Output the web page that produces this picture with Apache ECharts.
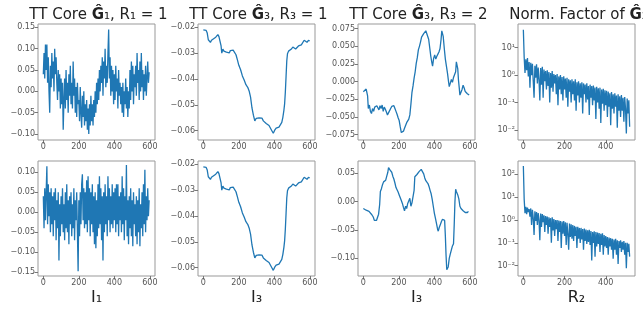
<!DOCTYPE html>
<html>
<head>
<meta charset="utf-8">
<title>TT cores</title>
<script src="https://cdn.jsdelivr.net/npm/echarts@6/dist/echarts.min.js"></script>
<style>body{margin:0;background:#fff} #main{width:643px;height:309px}</style>
</head>
<body>
<div id="main"></div>
<script>
// noisy series are sampled every 4 indices
var STEP = 4;

// TT core G1, R1 = 1 (top row)
var g1Top = [
  0.04, 0.09, 0.03, 0.11, 0.05, 0.11, 0.02, 0.08, 0.00, -0.05,
  0.06, 0.01, 0.09, 0.03, 0.07, 0.00, 0.10, 0.04, 0.08, 0.02,
  -0.02, 0.05, 0.00, 0.04, -0.04, 0.03, -0.03, 0.02, -0.09, -0.02,
  0.03, -0.04, 0.05, -0.02, 0.02, -0.05, 0.04, -0.01, 0.06, -0.03,
  0.02, -0.04, 0.07, -0.01, 0.03, -0.05, 0.01, -0.06, 0.02, -0.03,
  -0.02, -0.07, 0.01, -0.05, -0.085, -0.01, -0.06, 0.00, -0.08, -0.03,
  -0.07, -0.02, -0.09, -0.04, -0.10, -0.03, -0.08, -0.01, -0.07, -0.03,
  -0.08, -0.02, -0.06, 0.00, -0.05, 0.02, -0.03, 0.03, -0.02, 0.05,
  0.00, 0.06, 0.02, 0.08, -0.01, 0.07, 0.03, 0.10, 0.01, 0.06,
  0.02, 0.09, 0.145, 0.03, 0.08, -0.01, 0.06, 0.00, 0.05, -0.03,
  0.04, -0.02, 0.06, 0.00, 0.03, -0.04, 0.05, -0.01, 0.02, -0.03,
  0.01, -0.05, 0.02, -0.06, 0.00, -0.03, 0.03, -0.04, 0.01, -0.06,
  0.00, -0.04, 0.05, -0.02, 0.07, 0.00, 0.06, -0.03, 0.04, 0.01,
  0.06, -0.01, 0.09, 0.02, 0.05, -0.02, 0.07, 0.00, 0.09, 0.01,
  0.05, -0.02, 0.04, 0.00, 0.06, -0.01, 0.03, 0.07, 0.02, 0.045
];

// TT core G1 (bottom row)
var g1Bot = [
  0.04, -0.04, 0.06, -0.02, 0.05, 0.115, -0.03, 0.07, -0.01, 0.05,
  -0.05, 0.06, -0.03, 0.04, -0.06, 0.05, -0.02, 0.06, -0.07, 0.03,
  -0.04, 0.05, -0.12, 0.02, -0.06, 0.04, -0.03, 0.06, -0.05, 0.02,
  -0.07, 0.05, -0.04, 0.07, -0.05, 0.03, -0.08, 0.04, -0.03, 0.05,
  -0.06, 0.02, -0.04, 0.06, -0.07, 0.03, -0.02, 0.05, -0.05, -0.147,
  0.03, -0.06, 0.05, -0.03, 0.07, 0.095, -0.02, 0.06, -0.04, 0.05,
  -0.03, 0.08, -0.05, 0.09, -0.02, 0.06, -0.06, 0.05, -0.03, 0.07,
  -0.05, 0.04, -0.08, 0.05, -0.09, 0.03, -0.06, 0.07, -0.04, 0.09,
  -0.03, 0.06, -0.07, 0.04, -0.12, 0.05, -0.05, 0.07, -0.03, 0.04,
  -0.06, 0.09, -0.02, 0.06, -0.05, 0.04, -0.03, 0.07, -0.04, 0.05,
  -0.02, 0.06, -0.05, 0.07, -0.03, 0.07, -0.06, 0.04, -0.02, 0.05,
  -0.05, 0.09, -0.03, 0.06, -0.07, 0.04, -0.02, 0.118, -0.06, 0.03,
  -0.08, 0.04, -0.04, 0.06, -0.06, 0.03, -0.085, 0.05, -0.03, 0.02,
  -0.06, 0.04, -0.08, 0.03, -0.05, 0.06, -0.085, 0.02, -0.04, 0.05,
  -0.06, 0.07, -0.03, 0.106, -0.05, 0.04, -0.02, 0.06, -0.01, 0.03
];

// TT core G3, R3 = 1 (same curve in both rows)
var g3r1Idx = [0,8,16,22,28,34,40,46,52,58,64,70,76,82,88,94,100,104,110,116,122,130,138,146,152,160,168,176,184,192,
  200,210,220,230,240,250,258,266,274,282,290,298,306,314,322,330,338,346,354,362,370,378,386,394,402,410,418,426,434,442,
  448,454,458,462,466,470,474,480,488,496,504,512,520,528,536,544,552,560,568,576,584,592,599];
var g3r1Val = [-0.0210,-0.0208,-0.0212,-0.0222,-0.0248,-0.0252,-0.0258,-0.0250,-0.0256,-0.0244,-0.0246,-0.0238,-0.0240,-0.0228,-0.0236,
  -0.0242,-0.0272,-0.0300,-0.0284,-0.0292,-0.0288,-0.0296,-0.0293,-0.0299,-0.0290,-0.0292,-0.0288,-0.0294,-0.0306,-0.0326,
  -0.0347,-0.0364,-0.0388,-0.0404,-0.0422,-0.0432,-0.0446,-0.0470,-0.0512,-0.0540,-0.0562,-0.0552,-0.0556,-0.0550,-0.0553,
  -0.0551,-0.0562,-0.0566,-0.0572,-0.0575,-0.0580,-0.0582,-0.0600,-0.0610,-0.0598,-0.0590,-0.0594,-0.0586,-0.0580,-0.0568,
  -0.0548,-0.0520,-0.0495,-0.0450,-0.0390,-0.0330,-0.0302,-0.0292,-0.0288,-0.0284,-0.0276,-0.0280,-0.0284,-0.0278,-0.0272,
  -0.0276,-0.0268,-0.0262,-0.0250,-0.0246,-0.0258,-0.0250,-0.0252];

// TT core G3, R3 = 2 (top row)
var g3r2TopIdx = [0,8,16,20,24,28,34,40,46,52,58,64,70,76,82,88,94,100,106,112,118,124,130,136,142,148,154,160,166,172,
  178,184,190,196,202,208,214,220,226,232,238,244,250,256,262,268,274,280,286,292,298,304,310,316,322,328,334,340,346,352,
  358,362,368,374,380,386,390,396,402,408,414,420,426,432,438,442,446,450,456,462,468,474,480,484,490,496,502,508,514,520,
  524,528,532,536,540,544,550,556,562,568,574,580,586,592,596];
var g3r2TopVal = [-0.0141,-0.0125,-0.0105,-0.0100,-0.0200,-0.0380,-0.0330,-0.0420,-0.0450,-0.0380,-0.0420,-0.0360,-0.0380,-0.0340,-0.0360,
  -0.0400,-0.0340,-0.0380,-0.0330,-0.0420,-0.0360,-0.0390,-0.0430,-0.0470,-0.0450,-0.0410,-0.0380,-0.0350,-0.0330,-0.0340,
  -0.0380,-0.0420,-0.0460,-0.0510,-0.0550,-0.0640,-0.0720,-0.0740,-0.0700,-0.0660,-0.0620,-0.0580,-0.0600,-0.0530,-0.0470,
  -0.0320,-0.0150,-0.0060,0.0050,0.0140,0.0260,0.0340,0.0450,0.0500,0.0560,0.0630,0.0610,0.0680,0.0660,0.0720,
  0.0740,0.0700,0.0600,0.0480,0.0360,0.0270,0.0220,0.0330,0.0380,0.0320,0.0360,0.0390,0.0420,0.0470,0.0600,
  0.0720,0.0700,0.0640,0.0470,0.0320,0.0220,0.0120,0.0000,-0.0070,-0.0020,0.0030,-0.0010,0.0060,0.0040,0.0140,
  0.0280,0.0230,0.0180,0.0020,-0.0080,-0.0190,-0.0150,-0.0110,-0.0050,-0.0090,-0.0140,-0.0150,-0.0170,-0.0180,-0.0190];

// TT core G3, R3 = 2 (bottom row)
var g3r2BotIdx = [0,8,16,24,32,40,48,56,62,68,74,80,86,92,96,102,108,114,120,126,132,138,142,146,150,154,160,166,172,178,
  184,190,196,202,208,214,220,226,232,238,244,250,256,262,268,274,280,286,290,296,302,308,314,320,326,332,336,340,346,352,
  358,364,370,376,382,388,394,400,406,412,418,422,428,434,440,446,452,458,462,466,470,474,478,484,490,496,502,508,512,516,
  520,524,528,532,538,544,550,556,562,568,574,580,586,592];
var g3r2BotVal = [-0.0120,-0.0130,-0.0150,-0.0140,-0.0170,-0.0200,-0.0230,-0.0270,-0.0330,-0.0300,-0.0330,-0.0300,-0.0220,-0.0050,0.0180,
  0.0230,0.0300,0.0350,0.0320,0.0380,0.0450,0.0520,0.0600,0.0630,0.0560,0.0580,0.0520,0.0450,0.0400,0.0330,
  0.0250,0.0220,0.0170,0.0120,0.0100,0.0020,-0.0030,-0.0100,-0.0160,-0.0080,-0.0120,-0.0030,-0.0010,0.0060,-0.0080,
  -0.0020,-0.0050,0.0200,0.0440,0.0460,0.0480,0.0510,0.0530,0.0550,0.0570,0.0600,0.0580,0.0490,0.0420,0.0370,
  0.0380,0.0320,0.0270,0.0200,0.0140,0.0040,-0.0080,-0.0200,-0.0290,-0.0380,-0.0480,-0.0520,-0.0450,-0.0400,-0.0350,
  -0.0310,-0.0280,-0.0330,-0.0600,-0.0950,-0.1200,-0.1230,-0.1150,-0.1000,-0.0920,-0.0850,-0.0780,-0.0740,-0.0400,0.0000,
  0.0220,0.0180,0.0160,0.0120,0.0050,-0.0080,-0.0120,-0.0140,-0.0160,-0.0170,-0.0190,-0.0180,-0.0190,-0.0170];

// Norm. factor (top row)
var normTop = [
  45, 4.5, 1.2, 3.8, 1.5, 4.2, 0.9, 3.0, 0.35, 2.8,
  1.0, 2.6, 0.6, 0.15, 2.2, 0.8, 2.5, 0.5, 1.9, 0.7,
  0.12, 1.8, 0.45, 2.0, 0.15, 1.6, 0.6, 1.4, 0.3, 1.5,
  0.4, 1.3, 0.1, 1.2, 0.35, 1.4, 0.25, 1.1, 0.5, 1.0,
  0.2, 1.1, 0.08, 0.9, 0.3, 1.0, 0.2, 0.85, 0.12, 0.9,
  0.3, 0.75, 0.15, 0.8, 0.07, 0.7, 0.25, 0.65, 0.1, 0.7,
  0.2, 0.6, 0.12, 0.7, 0.05, 0.55, 0.18, 0.6, 0.1, 0.5,
  0.15, 0.55, 0.04, 0.5, 0.2, 0.45, 0.1, 0.5, 0.13, 0.4,
  0.035, 0.45, 0.15, 0.4, 0.08, 0.42, 0.12, 0.35, 0.025, 0.38,
  0.1, 0.33, 0.06, 0.35, 0.018, 0.3, 0.09, 0.32, 0.05, 0.28,
  0.08, 0.27, 0.03, 0.25, 0.07, 0.22, 0.015, 0.24, 0.06, 0.2,
  0.04, 0.22, 0.07, 0.18, 0.012, 0.2, 0.05, 0.17, 0.03, 0.19,
  0.05, 0.15, 0.02, 0.16, 0.06, 0.0075, 0.14, 0.04, 0.12, 0.013
];

// Norm. factor (bottom row)
var normBot = [
  230, 8, 2.0, 3.8, 1.8, 3.5, 2.2, 3.0, 1.4, 3.2,
  0.6, 2.8, 1.2, 0.22, 2.4, 0.9, 2.2, 0.6, 2.0, 1.0,
  0.13, 1.9, 0.5, 1.8, 0.8, 1.6, 0.3, 1.5, 0.6, 1.4,
  0.25, 1.3, 0.5, 1.2, 0.1, 1.3, 0.35, 1.1, 0.2, 1.0,
  0.4, 1.0, 0.12, 0.95, 0.3, 0.9, 0.06, 0.85, 0.25, 0.9,
  0.2, 0.8, 0.08, 0.75, 0.25, 0.05, 0.7, 0.18, 0.65, 0.15,
  0.6, 0.12, 0.55, 0.2, 0.5, 0.06, 0.5, 0.15, 0.45, 0.1,
  0.45, 0.14, 0.4, 0.05, 0.42, 0.12, 0.38, 0.09, 0.35, 0.11,
  0.37, 0.08, 0.33, 0.017, 0.3, 0.1, 0.32, 0.025, 0.3, 0.07,
  0.28, 0.09, 0.27, 0.04, 0.25, 0.08, 0.26, 0.03, 0.22, 0.07,
  0.2, 0.06, 0.18, 0.03, 0.17, 0.07, 0.16, 0.05, 0.15, 0.02,
  0.14, 0.05, 0.15, 0.03, 0.13, 0.012, 0.12, 0.06, 0.13, 0.04,
  0.11, 0.05, 0.12, 0.03, 0.1, 0.0077, 0.1, 0.04, 0.09, 0.025
];

// tick labels
var xTicksI = [0, 200, 400, 600];
var xTicksR = [0, 200, 400];
var yTicksG1Top = [-0.10, -0.05, 0.00, 0.05, 0.10, 0.15];
var yTicksG1Bot = [-0.15, -0.10, -0.05, 0.00, 0.05, 0.10];
var yTicksG3r1 = [-0.06, -0.05, -0.04, -0.03, -0.02];
var yTicksG3r2Top = [-0.075, -0.050, -0.025, 0.000, 0.025, 0.050, 0.075];
var yTicksG3r2Bot = [-0.10, -0.05, 0.00, 0.05];
var yTicksNormTop = [0.01, 0.1, 1, 10];
var yTicksNormBot = [0.01, 0.1, 1, 10, 100];

var titles = ['TT Core {b|\u011C}\u2081, R\u2081 = 1', 'TT Core {b|\u011C}\u2083, R\u2083 = 1',
              'TT Core {b|\u011C}\u2083, R\u2083 = 2', 'Norm. Factor of {b|\u011C}\u2083'];
var xNames = ['I\u2081', 'I\u2083', 'I\u2083', 'R\u2082'];

function stepped(vals) { return vals.map(function (v, i) { return [i * STEP, v]; }); }
function paired(idx, vals) { return idx.map(function (x, i) { return [x, vals[i]]; }); }
function fixed(n) {
  return function (v) { return (v < 0 ? '\u2212' : '') + Math.abs(v).toFixed(n); };
}
var SUP = { '-': '\u207B', '0': '\u2070', '1': '\u00B9', '2': '\u00B2', '3': '\u00B3' };
function pow10(v) {
  var e = String(Math.round(Math.log10(v)));
  return '10' + e.split('').map(function (c) { return SUP[c]; }).join('');
}

var FONT = 'DejaVu Sans';
var colLeft = [38, 198, 358, 518];
var rowTop = [24, 161];
var rowH = [116, 115];
var W = 117;

var panels = [
  { r: 0, c: 0, data: stepped(g1Top), x: [-30, 629], xt: xTicksI, y: [-0.114, 0.158], yt: yTicksG1Top, fmt: fixed(2) },
  { r: 0, c: 1, data: paired(g3r1Idx, g3r1Val), x: [-30, 629], xt: xTicksI, y: [-0.0636, -0.0187], yt: yTicksG3r1, fmt: fixed(2) },
  { r: 0, c: 2, data: paired(g3r2TopIdx, g3r2TopVal), x: [-30, 629], xt: xTicksI, y: [-0.0825, 0.0816], yt: yTicksG3r2Top, fmt: fixed(3) },
  { r: 0, c: 3, data: stepped(normTop), x: [-26, 542], xt: xTicksR, y: [0.00431, 73.3], yt: yTicksNormTop, fmt: pow10, log: true },
  { r: 1, c: 0, data: stepped(g1Bot), x: [-30, 629], xt: xTicksI, y: [-0.159, 0.128], yt: yTicksG1Bot, fmt: fixed(2) },
  { r: 1, c: 1, data: paired(g3r1Idx, g3r1Val), x: [-30, 629], xt: xTicksI, y: [-0.0632, -0.0187], yt: yTicksG3r1, fmt: fixed(2) },
  { r: 1, c: 2, data: paired(g3r2BotIdx, g3r2BotVal), x: [-30, 629], xt: xTicksI, y: [-0.131, 0.0718], yt: yTicksG3r2Bot, fmt: fixed(2) },
  { r: 1, c: 3, data: stepped(normBot), x: [-26, 542], xt: xTicksR, y: [0.00355, 380], yt: yTicksNormBot, fmt: pow10, log: true }
];

var grids = [], xAxes = [], yAxes = [], series = [];
var tick = { show: true, length: 3.5, lineStyle: { color: '#777', width: 1 } };
var lab = { fontFamily: FONT, fontSize: 8, color: '#555', margin: 3 };

panels.forEach(function (p, i) {
  grids.push({ left: colLeft[p.c], top: rowTop[p.r], width: W, height: rowH[p.r],
               show: true, borderColor: '#999', borderWidth: 1, backgroundColor: 'transparent' });
  xAxes.push({
    type: 'value', gridIndex: i, min: p.x[0], max: p.x[1], position: 'bottom',
    axisLine: { show: false, onZero: false }, splitLine: { show: false },
    axisTick: Object.assign({ customValues: p.xt }, tick),
    axisLabel: Object.assign({ customValues: p.xt }, lab),
    name: p.r === 1 ? xNames[p.c] : '', nameLocation: 'middle', nameGap: 14,
    nameTextStyle: { fontFamily: FONT, fontSize: 16, color: '#222' }
  });
  yAxes.push({
    type: p.log ? 'log' : 'value', gridIndex: i, min: p.y[0], max: p.y[1], position: 'left',
    axisLine: { show: false, onZero: false }, splitLine: { show: false },
    axisTick: Object.assign({ customValues: p.yt }, tick),
    axisLabel: Object.assign({ customValues: p.yt, formatter: p.fmt }, lab)
  });
  series.push({ type: 'line', xAxisIndex: i, yAxisIndex: i, data: p.data, showSymbol: false,
                symbol: 'none', lineStyle: { color: '#1f77b4', width: 1.3 }, clip: true });
});

var titleList = titles.map(function (t, c) {
  return {
    text: t, left: colLeft[c] + W / 2 - 3, top: 3, textAlign: 'center',
    textStyle: { fontFamily: FONT, fontSize: 15, fontWeight: 'normal', color: '#222',
                 rich: { b: { fontFamily: FONT, fontSize: 15, fontWeight: 'bold', color: '#222' } } }
  };
});

var myChart = echarts.init(document.getElementById('main'));
myChart.setOption({
  animation: false,
  backgroundColor: '#fff',
  title: titleList,
  grid: grids,
  xAxis: xAxes,
  yAxis: yAxes,
  series: series
});
</script>
</body>
</html>
